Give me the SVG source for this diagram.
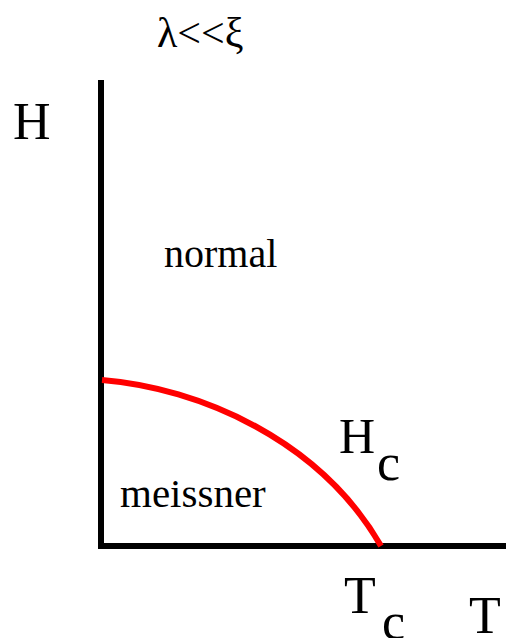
<svg xmlns="http://www.w3.org/2000/svg" width="506" height="638" viewBox="0 0 506 638">
<style>
text{font-family:'Liberation Serif','DejaVu Serif',serif;fill:#000}
.ax{stroke:#000;stroke-width:6;fill:none}
.hc{stroke:#ff0000;stroke-width:6;fill:none}
</style>
<rect width="506" height="638" fill="#fff"/>
<g id="axes">
<line class="ax" x1="101" y1="80" x2="101" y2="549"/>
<line class="ax" x1="98" y1="546" x2="506" y2="546"/>
</g>
<g id="curve">
<path class="hc" d="M102,380 C200,388 320,440 381,546"/>
</g>
<g id="labels">
<text x="157" y="47" font-size="42">λ&lt;&lt;ξ</text>
<text x="13" y="139" font-size="52">H</text>
<text x="164" y="267" font-size="40">normal</text>
<text x="120" y="507" font-size="41">meissner</text>
<text x="339" y="453" font-size="50">H</text>
<text x="377" y="480" font-size="52">c</text>
<text x="344" y="613" font-size="52">T</text>
<text x="382" y="639" font-size="52">c</text>
<text x="469" y="633" font-size="52">T</text>
</g>
</svg>
